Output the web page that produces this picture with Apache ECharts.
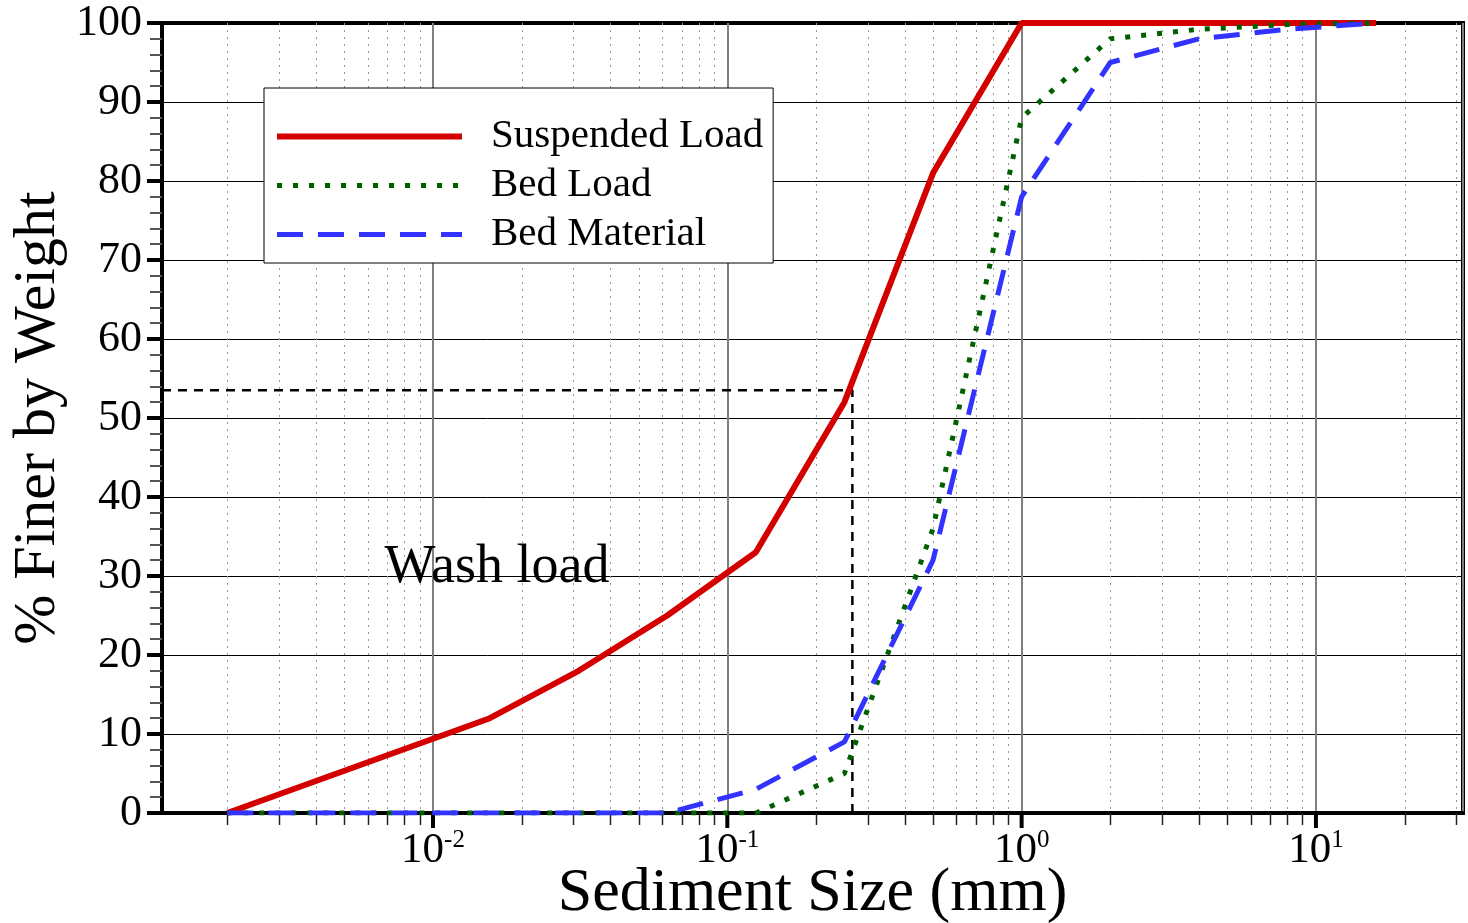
<!DOCTYPE html>
<html>
<head>
<meta charset="utf-8">
<script src="https://cdn.jsdelivr.net/npm/echarts@6/dist/echarts.min.js"></script>
<style>
  html, body { margin: 0; padding: 0; background: #fff; }
  #chartBox { width: 1468px; height: 923px; }
</style>
</head>
<body>
<div id="chartBox"></div>
<script>
// grain size (mm) and % finer by weight
var sizes = [0.002, 0.0156, 0.03125, 0.0625, 0.125, 0.25, 0.5, 1, 2, 4, 8, 16];
var suspendedLoad = [0, 12, 18, 25, 33, 52, 81, 100, 100, 100, 100, 100];
var bedLoad = [0, 0, 0, 0, 0, 5, 36, 88, 98, 99.2, 99.8, 100];
var bedMaterial = [0, 0, 0, 0, 3, 9, 32, 78, 95, 98, 99.2, 100];

var names = ['Suspended Load', 'Bed Load', 'Bed Material'];

// axis range and ticks
var xMin = 0.0012;
var xMax = 31.6;
var majorTicks = [0.01, 0.1, 1, 10];
var minorTicks = [
  0.002, 0.003, 0.004, 0.005, 0.006, 0.007, 0.008, 0.009,
  0.02, 0.03, 0.04, 0.05, 0.06, 0.07, 0.08, 0.09,
  0.2, 0.3, 0.4, 0.5, 0.6, 0.7, 0.8, 0.9,
  2, 3, 4, 5, 6, 7, 8, 9,
  20, 30
];

// d50 guide line and annotation
var guideX = [xMin, 0.266, 0.266];
var guideY = [53.5, 53.5, 0];
var washX = 0.0165;
var washY = 31;

var serif = "'Liberation Serif', 'DejaVu Serif', serif";

function pairs(xs, ys) {
  var out = [];
  for (var i = 0; i < xs.length; i++) out.push([xs[i], ys[i]]);
  return out;
}

var chart = echarts.init(document.getElementById('chartBox'));

var option = {
  animation: false,
  backgroundColor: '#fff',
  grid: {
    left: 162, right: 5, top: 23, bottom: 110,
    containLabel: false, outerBoundsMode: 'none',
    show: true, borderColor: '#000', borderWidth: 4, backgroundColor: 'transparent'
  },
  legend: {
    data: names,
    orient: 'vertical',
    left: 264, top: 88,
    padding: [28, 10, 8, 10],
    itemWidth: 185, itemHeight: 14, itemGap: 8,
    backgroundColor: '#fff',
    borderColor: '#000', borderWidth: 1,
    itemStyle: { color: 'rgba(0,0,0,0)', borderWidth: 0 },
    lineStyle: { width: 'inherit', type: 'inherit' },
    textStyle: { fontFamily: serif, fontSize: 41, lineHeight: 40, color: '#000', padding: [0, 0, 0, 24] }
  },
  xAxis: {
    type: 'log', logBase: 10, min: xMin, max: xMax,
    name: 'Sediment Size (mm)', nameLocation: 'middle', nameGap: 50, nameMoveOverlap: false,
    nameTextStyle: { fontFamily: serif, fontSize: 62, color: '#000' },
    axisLine: { show: true, onZero: false, lineStyle: { color: '#000', width: 4 } },
    axisTick: { show: false },
    minorTick: { show: false },
    splitLine: { show: true, lineStyle: { color: '#808080', width: 2 } },
    axisLabel: {
      showMinLabel: false, showMaxLabel: false, margin: 15,
      color: '#000', fontFamily: serif,
      formatter: function (v) {
        var e = Math.round(Math.log(v) / Math.LN10);
        return '{b|10}{s|' + e + '}';
      },
      rich: {
        b: { fontFamily: serif, fontSize: 43, lineHeight: 43, color: '#000', padding: [3, 0, 0, 0] },
        s: { fontFamily: serif, fontSize: 25, lineHeight: 25, color: '#000', verticalAlign: 'top' }
      }
    }
  },
  yAxis: {
    type: 'value', min: 0, max: 100, interval: 10,
    name: '% Finer by Weight', nameLocation: 'middle', nameGap: 94, nameMoveOverlap: false,
    nameTextStyle: { fontFamily: serif, fontSize: 60, color: '#000' },
    axisLine: { show: true, lineStyle: { color: '#000', width: 4 } },
    axisTick: { show: true, length: 15, lineStyle: { color: '#000', width: 4 } },
    minorTick: { show: true, splitNumber: 5, length: 12, lineStyle: { color: '#555', width: 2 } },
    splitLine: { show: true, lineStyle: { color: '#000', width: 1 } },
    axisLabel: { fontFamily: serif, fontSize: 44, color: '#000', margin: 20 }
  },
  series: [
    {
      // minor decade gridlines + ticks
      type: 'custom', name: 'minor', silent: true, z: 1,
      data: minorTicks.map(function (v) { return [v, 0]; }),
      encode: { x: 0, y: 1 },
      renderItem: function (params, api) {
        var v = api.value(0);
        var bot = api.coord([v, 0]);
        var top = api.coord([v, 100]);
        var x = Math.round(bot[0]) + 0.5;
        return {
          type: 'group',
          children: [
            { type: 'line', shape: { x1: x, y1: top[1], x2: x, y2: bot[1] },
              style: { stroke: '#999', lineWidth: 1, lineDash: [2, 5] } },
            { type: 'line', shape: { x1: x, y1: bot[1], x2: x, y2: bot[1] + 12 },
              style: { stroke: '#222', lineWidth: 1.5 } }
          ]
        };
      }
    },
    {
      // major decade ticks
      type: 'custom', name: 'major', silent: true, z: 1,
      data: majorTicks.map(function (v) { return [v, 0]; }),
      encode: { x: 0, y: 1 },
      renderItem: function (params, api) {
        var bot = api.coord([api.value(0), 0]);
        return { type: 'line', shape: { x1: bot[0], y1: bot[1], x2: bot[0], y2: bot[1] + 15 },
          style: { stroke: '#000', lineWidth: 4 } };
      }
    },
    {
      type: 'line', name: 'd50', silent: true, symbol: 'none', z: 3,
      data: pairs(guideX, guideY),
      lineStyle: { color: '#000', width: 2.5, type: [9, 7] }
    },
    {
      type: 'line', name: names[0], symbol: 'none', z: 4,
      data: pairs(sizes, suspendedLoad),
      color: '#d40000',
      lineStyle: { color: '#d40000', width: 6, type: 'solid' }
    },
    {
      type: 'line', name: names[1], symbol: 'none', z: 4,
      data: pairs(sizes, bedLoad),
      color: '#006000',
      lineStyle: { color: '#006000', width: 5, type: [5, 11], cap: 'butt' }
    },
    {
      type: 'line', name: names[2], symbol: 'none', z: 4,
      data: pairs(sizes, bedMaterial),
      color: '#3333ff',
      lineStyle: { color: '#3333ff', width: 5, type: [26, 15], cap: 'butt' }
    },
    {
      type: 'scatter', name: 'wash', silent: true, symbolSize: 0, z: 5,
      data: [[washX, washY]],
      itemStyle: { color: '#000' },
      label: { show: true, position: 'inside', formatter: 'Wash load', opacity: 1,
        fontFamily: serif, fontSize: 54, color: '#000', textBorderWidth: 0 }
    }
  ]
};

chart.setOption(option);
</script>
</body>
</html>
